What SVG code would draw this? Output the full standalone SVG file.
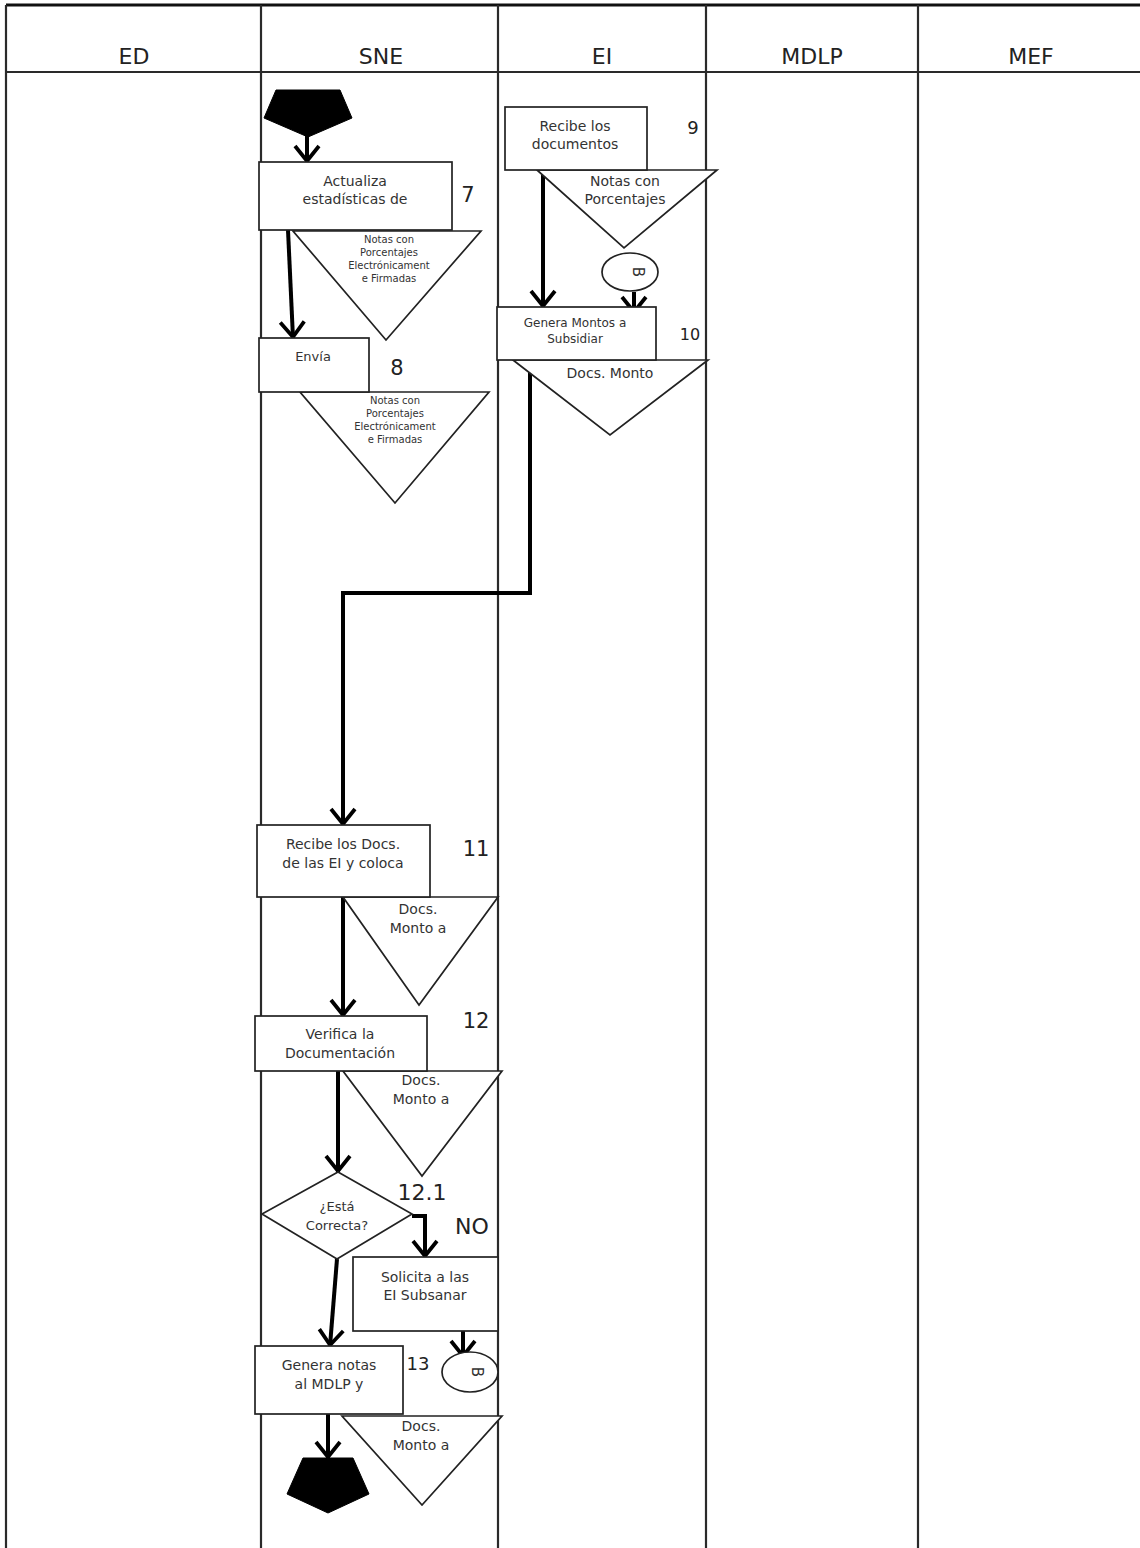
<svg xmlns="http://www.w3.org/2000/svg" width="1140" height="1548" viewBox="0 0 1140 1548">
<style>
.lane{stroke:#2a2a2a;stroke-width:2.2;fill:none}
.hdr{font-family:"DejaVu Sans",sans-serif;font-size:22px;fill:#222;text-anchor:middle}
.box{fill:#fff;stroke:#222;stroke-width:1.7}
.tri{fill:#fff;stroke:#222;stroke-width:1.7}
.t{font-family:"DejaVu Sans",sans-serif;font-size:13px;fill:#333;text-anchor:middle}
.ts{font-family:"DejaVu Sans",sans-serif;font-size:10px;fill:#333;text-anchor:middle}
.num{font-family:"DejaVu Sans",sans-serif;font-size:21px;fill:#222;text-anchor:middle}
.term{fill:#000;stroke:#000;stroke-width:1}
.con{stroke:#000;stroke-width:4;fill:none;marker-end:url(#ah)}
</style>
<defs>
<marker id="ah" viewBox="0 0 20 28" refX="18" refY="14" markerWidth="20" markerHeight="28" markerUnits="userSpaceOnUse" orient="auto">
<path d="M2,2 L17,14 L2,26" fill="none" stroke="#000" stroke-width="3.8"/>
</marker>
</defs>
<rect width="1140" height="1548" fill="#fff"/>
<g id="lanes">
<line class="lane" x1="6" y1="5" x2="1140" y2="5" style="stroke-width:3;stroke:#111"/>
<line class="lane" x1="6" y1="72" x2="1140" y2="72"/>
<line class="lane" x1="6" y1="5" x2="6" y2="1548"/>
<line class="lane" x1="261" y1="5" x2="261" y2="1548"/>
<line class="lane" x1="498" y1="5" x2="498" y2="1548"/>
<line class="lane" x1="706" y1="5" x2="706" y2="1548"/>
<line class="lane" x1="918" y1="5" x2="918" y2="1548"/>
<text class="hdr" x="134" y="64">ED</text>
<text class="hdr" x="381" y="64">SNE</text>
<text class="hdr" x="602" y="64">EI</text>
<text class="hdr" x="812" y="64">MDLP</text>
<text class="hdr" x="1031" y="64">MEF</text>
</g>
<g id="connectors">
<path class="con" d="M307,135 L307,162"/>
<path class="con" d="M288,230 L293,338"/>
<path class="con" d="M543,170 L543,307"/>
<path class="con" d="M634,292 L634,313"/>
<path class="con" d="M530,360 L530,593 L343,593 L343,825"/>
<path class="con" d="M343,897 L343,1016"/>
<path class="con" d="M338,1071 L338,1172"/>
<path class="con" d="M412,1216 L425,1216 L425,1257"/>
<path class="con" d="M337,1259 L330,1346"/>
<path class="con" d="M463,1331 L463,1357"/>
<path class="con" d="M328,1414 L328,1458"/>
</g>
<g id="start">
<polygon class="term" points="276,90 340,90 352,118 308,137 264,118"/>
</g>
<g id="n7">
<polygon class="tri" points="293,231 481,231 386,340"/>
<text class="ts" x="389" y="243">Notas con</text>
<text class="ts" x="389" y="256">Porcentajes</text>
<text class="ts" x="389" y="269">Electrónicament</text>
<text class="ts" x="389" y="282">e Firmadas</text>
<rect class="box" x="259" y="162" width="193" height="68"/>
<text class="t" x="355" y="186" style="font-size:14px">Actualiza</text>
<text class="t" x="355" y="204" style="font-size:14px">estadísticas de</text>
<text class="num" x="468" y="202">7</text>
</g>
<g id="n8">
<polygon class="tri" points="300,392 489,392 395,503"/>
<text class="ts" x="395" y="404">Notas con</text>
<text class="ts" x="395" y="417">Porcentajes</text>
<text class="ts" x="395" y="430">Electrónicament</text>
<text class="ts" x="395" y="443">e Firmadas</text>
<rect class="box" x="259" y="338" width="110" height="54"/>
<text class="t" x="313" y="361">Envía</text>
<text class="num" x="397" y="375">8</text>
</g>
<g id="n9">
<polygon class="tri" points="537,170 717,170 624,248"/>
<text class="t" x="625" y="186" style="font-size:14px">Notas con</text>
<text class="t" x="625" y="204" style="font-size:14px">Porcentajes</text>
<rect class="box" x="505" y="107" width="142" height="63"/>
<text class="t" x="575" y="131" style="font-size:14px">Recibe los</text>
<text class="t" x="575" y="149" style="font-size:14px">documentos</text>
<text class="num" x="693" y="134" style="font-size:18px">9</text>
</g>
<g id="connB1">
<ellipse cx="630" cy="272" rx="28" ry="19" fill="#fff" stroke="#222" stroke-width="1.7"/>
<text class="t" transform="translate(638,272) rotate(90)" y="5" style="font-size:15px">B</text>
</g>
<g id="n10">
<polygon class="tri" points="513,360 708,360 610,435"/>
<text class="t" x="610" y="378" style="font-size:14px">Docs. Monto</text>
<rect class="box" x="497" y="307" width="159" height="53"/>
<text class="t" x="575" y="327" style="font-size:12px">Genera Montos a</text>
<text class="t" x="575" y="343" style="font-size:12px">Subsidiar</text>
<text class="num" x="690" y="340" style="font-size:16px">10</text>
</g>
<g id="n11">
<polygon class="tri" points="343,897 498,897 419,1005"/>
<text class="t" x="418" y="914" style="font-size:14px">Docs.</text>
<text class="t" x="418" y="933" style="font-size:14px">Monto a</text>
<rect class="box" x="257" y="825" width="173" height="72"/>
<text class="t" x="343" y="849" style="font-size:14px">Recibe los Docs.</text>
<text class="t" x="343" y="868" style="font-size:14px">de las EI y coloca</text>
<text class="num" x="476" y="856">11</text>
</g>
<g id="n12">
<polygon class="tri" points="343,1071 502,1071 422,1176"/>
<text class="t" x="421" y="1085" style="font-size:14px">Docs.</text>
<text class="t" x="421" y="1104" style="font-size:14px">Monto a</text>
<rect class="box" x="255" y="1016" width="172" height="55"/>
<text class="t" x="340" y="1039" style="font-size:14px">Verifica la</text>
<text class="t" x="340" y="1058" style="font-size:14px">Documentación</text>
<text class="num" x="476" y="1028">12</text>
</g>
<g id="n12_1">
<polygon class="box" points="338,1172 412,1214 337,1259 262,1214"/>
<text class="t" x="337" y="1211">¿Está</text>
<text class="t" x="337" y="1230">Correcta?</text>
<text class="num" x="422" y="1200" style="font-size:22px">12.1</text>
<text class="num" x="472" y="1234" style="font-size:22px">NO</text>
</g>
<g id="nSub">
<rect class="box" x="353" y="1257" width="145" height="74"/>
<text class="t" x="425" y="1282" style="font-size:14px">Solicita a las</text>
<text class="t" x="425" y="1300" style="font-size:14px">EI Subsanar</text>
</g>
<g id="connB2">
<ellipse cx="470" cy="1372" rx="28" ry="20" fill="#fff" stroke="#222" stroke-width="1.7"/>
<text class="t" transform="translate(477,1372) rotate(90)" y="5" style="font-size:15px">B</text>
</g>
<g id="n13">
<polygon class="tri" points="342,1416 502,1416 422,1505"/>
<text class="t" x="421" y="1431" style="font-size:14px">Docs.</text>
<text class="t" x="421" y="1450" style="font-size:14px">Monto a</text>
<rect class="box" x="255" y="1346" width="148" height="68"/>
<text class="t" x="329" y="1370" style="font-size:14px">Genera notas</text>
<text class="t" x="329" y="1389" style="font-size:14px">al MDLP y</text>
<text class="num" x="418" y="1370" style="font-size:18px">13</text>
</g>
<g id="end">
<polygon class="term" points="303,1458 353,1458 369,1494 328,1513 287,1494"/>
</g>
</svg>
